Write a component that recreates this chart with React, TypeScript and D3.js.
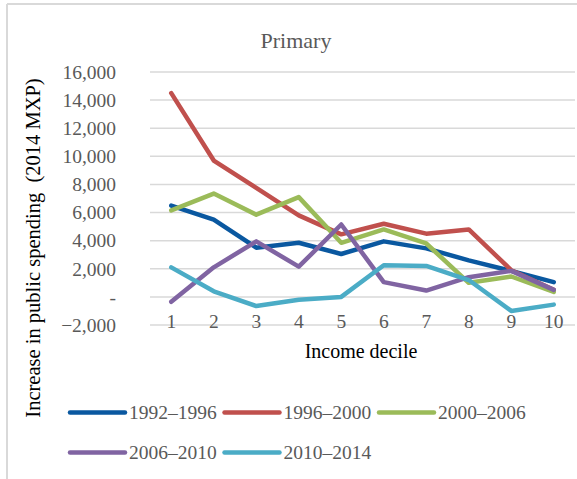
import React from "react";
import * as d3 from "d3";

const deciles = ["1", "2", "3", "4", "5", "6", "7", "8", "9", "10"];
const yTicks = [-2000, 0, 2000, 4000, 6000, 8000, 10000, 12000, 14000, 16000];

const s1992 = [6500, 5500, 3500, 3850, 3050, 3950, 3450, 2600, 1850, 1050];
const s1996 = [14500, 9700, 7750, 5800, 4450, 5200, 4500, 4800, 1900, 500];
const s2000 = [6150, 7350, 5850, 7100, 3850, 4800, 3800, 1000, 1450, 350];
const s2006 = [-350, 2100, 3950, 2150, 5150, 1050, 450, 1400, 1850, 500];
const s2010 = [2100, 400, -650, -200, 0, 2250, 2200, 1200, -1000, -550];

const seriesNames = ["1992–1996", "1996–2000", "2000–2006", "2006–2010", "2010–2014"];
const seriesValues = [s1992, s1996, s2000, s2006, s2010];
const colors = ["#0a58a0", "#c0504d", "#9bbb59", "#8064a2", "#4bacc6"];

const W = 577;
const H = 479;
const font = "'Liberation Serif', 'Times New Roman', serif";

const App = () => {
  const x = d3.scaleBand().domain(deciles).range([150, 575]);
  const y = d3.scaleLinear().domain([-2000, 16000]).range([325, 72]);
  const cx = (d: string) => (x(d) || 0) + x.bandwidth() / 2;

  const line = d3
    .line<number>()
    .x((d, i) => cx(deciles[i]))
    .y(d => y(d));

  const fmt = (v: number) => (v === 0 ? "-" : d3.format(",")(v));

  // legend: 3 per row
  const legendX = (i: number) => 70 + (i % 3) * 154.5;
  const legendY = (i: number) => 412.5 + Math.floor(i / 3) * 40;

  return (
    <svg
      width={W}
      height={H}
      style={{ position: "absolute", left: 0, top: 0, background: "#fff" }}
      fontFamily={font}
    >
      {/* frame */}
      <line x1={7} x2={W} y1={4} y2={4} stroke="#d9d9d9" strokeWidth={2} />
      <line x1={7} x2={7} y1={4} y2={H} stroke="#d9d9d9" strokeWidth={2} />

      <text x={296} y={48} textAnchor="middle" fontSize={22} fill="#595959">
        Primary
      </text>

      {yTicks.map(t => (
        <g key={t}>
          <line x1={150} x2={575} y1={y(t)} y2={y(t)} stroke="#d9d9d9" strokeWidth={1.5} />
          <text
            x={116}
            y={y(t)}
            dy="0.35em"
            textAnchor="end"
            fontSize={19.5}
            fill="#595959"
          >
            {fmt(t)}
          </text>
        </g>
      ))}

      {deciles.map(d => (
        <text key={d} x={cx(d)} y={328} textAnchor="middle" fontSize={19.5} fill="#595959">
          {d}
        </text>
      ))}

      {seriesValues.map((vals, i) => (
        <path
          key={seriesNames[i]}
          d={line(vals) || ""}
          fill="none"
          stroke={colors[i]}
          strokeWidth={4.5}
          strokeLinejoin="round"
          strokeLinecap="round"
        />
      ))}

      <text x={361} y={358} textAnchor="middle" fontSize={20} fill="#000">
        Income decile
      </text>

      <text
        transform={`translate(40, 248) rotate(-90)`}
        textAnchor="middle"
        fontSize={20.5}
        fill="#000"
        style={{ whiteSpace: "pre" }}
      >
        {"Increase in public spending  (2014 MXP)"}
      </text>

      {seriesNames.map((name, i) => (
        <g key={name} transform={`translate(${legendX(i)}, ${legendY(i)})`}>
          <line x1={0} x2={55} y1={0} y2={0} stroke={colors[i]} strokeWidth={4.5} strokeLinecap="round" />
          <text x={59} y={0} dy="0.35em" fontSize={19.5} fill="#595959">
            {name}
          </text>
        </g>
      ))}
    </svg>
  );
};

export default App;
